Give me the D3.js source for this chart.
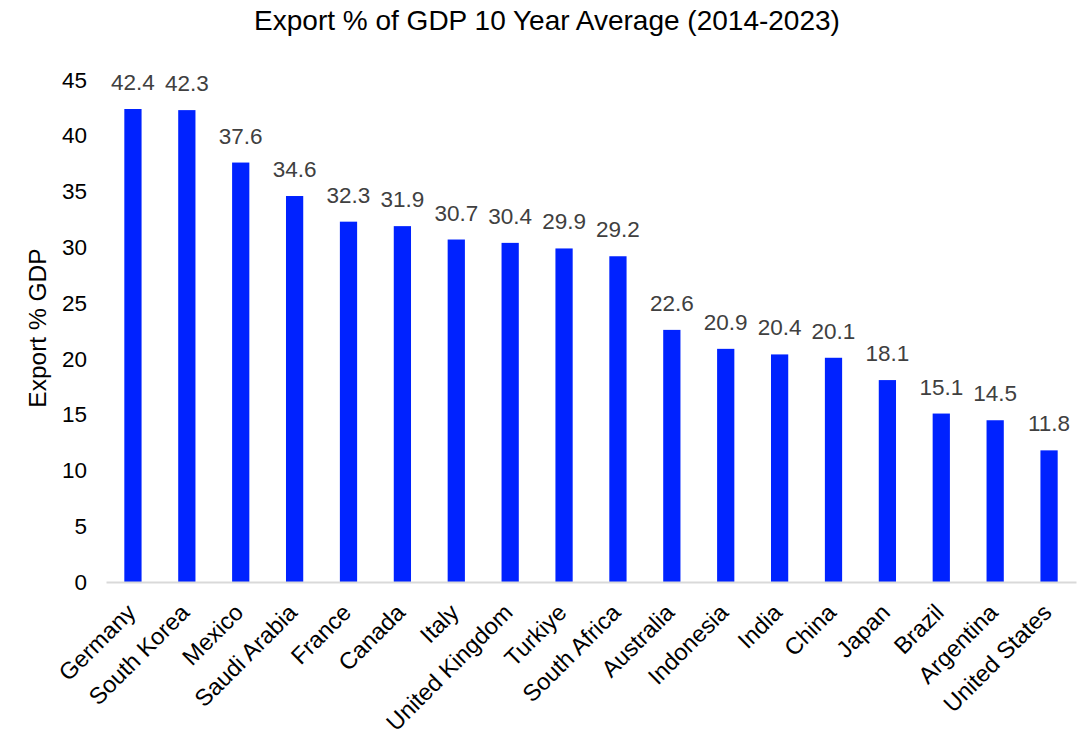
<!DOCTYPE html>
<html>
<head>
<meta charset="utf-8">
<script src="https://cdn.jsdelivr.net/npm/d3@7"></script>
<style>
  body { margin: 0; background: #fff; }
  text { font-family: "Liberation Sans", Arial, sans-serif; }
</style>
</head>
<body>
<svg id="chart"></svg>
<script>
var countries = ["Germany", "South Korea", "Mexico", "Saudi Arabia", "France", "Canada", "Italy",
    "United Kingdom", "Turkiye", "South Africa", "Australia", "Indonesia", "India", "China",
    "Japan", "Brazil", "Argentina", "United States"];
var exportPct = [42.4, 42.3, 37.6, 34.6, 32.3, 31.9, 30.7, 30.4, 29.9, 29.2, 22.6, 20.9, 20.4, 20.1,
    18.1, 15.1, 14.5, 11.8];
var yTicks = [0, 5, 10, 15, 20, 25, 30, 35, 40, 45];

var width = 1092;
var height = 738;
var margin = { top: 80, right: 16, bottom: 156, left: 106 };

var svg = d3.select('#chart')
    .attr("width", width)
    .attr("height", height);

var x = d3.scaleBand()
    .domain(countries)
    .range([margin.left, width - margin.right])
    .paddingInner(0.68)
    .paddingOuter(0.34);

var y = d3.scaleLinear()
    .domain([0, 45])
    .range([height - margin.bottom, margin.top]);

// title
svg.append("text")
    .attr("x", 547)
    .attr("y", 30)
    .attr("text-anchor", "middle")
    .style("font-size", "28px")
    .attr("fill", "#000")
    .text("Export % of GDP 10 Year Average (2014-2023)");

// y axis (labels only)
var yAxis = svg.append("g")
    .attr("transform", "translate(" + margin.left + ",0)")
    .call(d3.axisLeft(y).tickValues(yTicks).tickSize(0).tickPadding(19));
yAxis.select(".domain").remove();
yAxis.selectAll("text")
    .style("font-size", "22.5px")
    .style("font-family", "Liberation Sans, Arial, sans-serif")
    .attr("fill", "#000");

svg.append("text")
    .attr("transform", "translate(46,328) rotate(-90)")
    .attr("text-anchor", "middle")
    .style("font-size", "24.5px")
    .attr("fill", "#000")
    .text("Export % GDP");

// bars
svg.selectAll(".bar")
    .data(countries)
    .enter()
    .append("rect")
    .classed("bar", true)
    .attr("x", d => x(d))
    .attr("width", x.bandwidth())
    .attr("y", (d, i) => y(exportPct[i]))
    .attr("height", (d, i) => y(0) - y(exportPct[i]))
    .attr("fill", "#0022ff");

// value labels
svg.selectAll(".val")
    .data(countries)
    .enter()
    .append("text")
    .classed("val", true)
    .attr("x", d => x(d) + x.bandwidth() / 2)
    .attr("y", (d, i) => y(exportPct[i]) - 19)
    .attr("text-anchor", "middle")
    .style("font-size", "22.5px")
    .attr("fill", "#404040")
    .text((d, i) => exportPct[i].toFixed(1));

// x axis
var xAxis = svg.append("g")
    .attr("transform", "translate(0," + y(0) + ")")
    .call(d3.axisBottom(x).tickSize(0).tickPadding(0));
xAxis.select(".domain")
    .attr("stroke", "#d9d9d9")
    .attr("stroke-width", 2);
xAxis.selectAll("text")
    .style("font-size", "23.5px")
    .style("font-family", "Liberation Sans, Arial, sans-serif")
    .attr("fill", "#000")
    .attr("text-anchor", "end")
    .attr("dy", "0")
    .attr("transform", "translate(4,32) rotate(-45)");
</script>
</body>
</html>
